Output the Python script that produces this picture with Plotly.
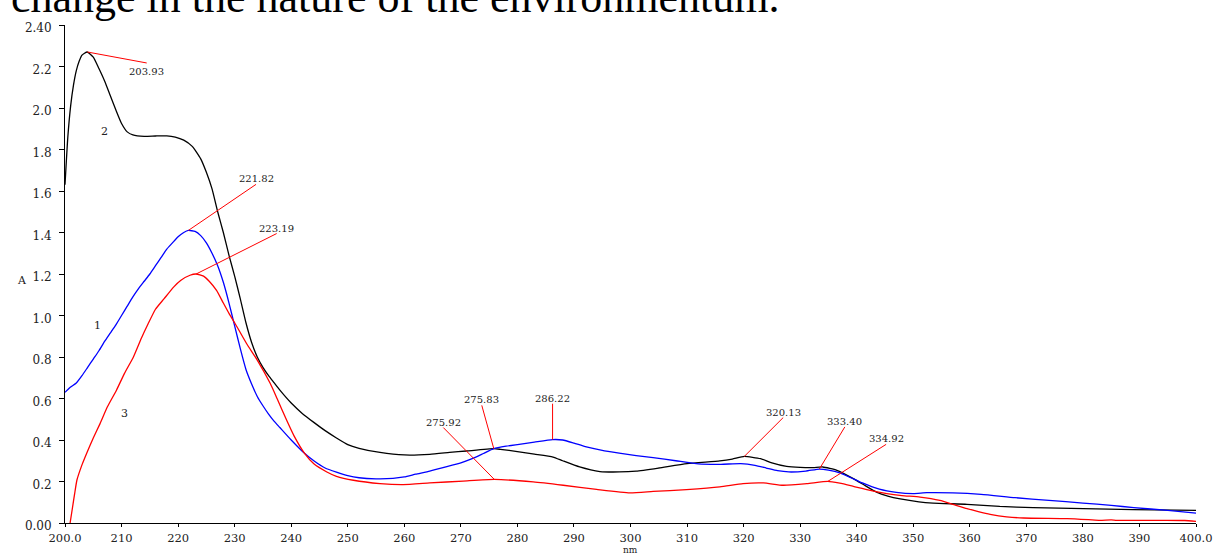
import numpy as np
import plotly.graph_objects as go

# ---- spectra (wavelength in nm, absorbance A) ----
wl_1 = [200.0, 201.0, 202.0, 203.0, 204.0, 205.0, 206.0, 207.0, 208.0, 209.0, 210.0, 211.0,
        212.0, 213.0, 214.0, 215.0, 216.0, 217.0, 218.0, 219.0, 220.0, 221.0, 221.82, 223.0,
        224.0, 225.0, 226.0, 227.0, 228.0, 229.0, 230.0, 231.0, 232.0, 233.0, 234.0, 235.0,
        236.0, 237.0, 238.0, 240.0, 242.0, 244.0, 246.0, 248.0, 250.0, 252.0, 255.0, 258.0,
        260.0, 262.0, 264.5, 267.0, 270.0, 272.0, 274.0, 275.83, 278.0, 280.0, 283.0, 286.22,
        288.0, 290.0, 292.0, 295.0, 298.0, 301.0, 304.0, 308.0, 312.0, 316.0, 319.5, 322.0,
        324.0, 326.0, 328.0, 331.0, 333.40, 335.0, 337.0, 339.0, 341.0, 344.0, 347.0, 350.0,
        352.4, 357.0, 362.0, 368.0, 374.0, 380.0, 385.0, 389.0, 395.0, 400.0]
abs_1 = [0.63, 0.655, 0.675, 0.71, 0.75, 0.79, 0.83, 0.875, 0.915, 0.955, 1.00, 1.045,
         1.09, 1.13, 1.165, 1.20, 1.24, 1.28, 1.32, 1.35, 1.38, 1.40, 1.41, 1.405,
         1.385, 1.35, 1.30, 1.24, 1.16, 1.06, 0.95, 0.84, 0.74, 0.67, 0.61, 0.565,
         0.525, 0.49, 0.46, 0.40, 0.345, 0.30, 0.265, 0.245, 0.228, 0.218, 0.213, 0.215,
         0.222, 0.235, 0.25, 0.268, 0.29, 0.31, 0.335, 0.358, 0.37, 0.378, 0.39, 0.402,
         0.40, 0.385, 0.368, 0.35, 0.337, 0.325, 0.315, 0.30, 0.285, 0.283, 0.286, 0.278,
         0.265, 0.252, 0.246, 0.25, 0.26, 0.255, 0.242, 0.218, 0.193, 0.163, 0.148, 0.142,
         0.146, 0.145, 0.138, 0.122, 0.109, 0.096, 0.085, 0.074, 0.061, 0.048]

wl_2 = [200.0, 200.5, 201.0, 201.5, 202.0, 202.5, 203.0, 203.93, 205.0, 206.0, 207.0, 208.0,
        209.0, 210.0, 211.0, 212.0, 214.0, 216.0, 218.0, 219.5, 221.0, 222.5, 224.0, 225.0,
        226.0, 227.0, 228.0, 229.0, 230.0, 231.0, 232.0, 233.0, 234.0, 235.0, 236.0, 237.0,
        238.0, 240.0, 242.0, 244.0, 246.0, 248.0, 250.0, 252.0, 255.7, 260.0, 264.5, 268.0,
        271.0, 275.83, 277.0, 280.0, 283.0, 286.3, 288.0, 291.0, 294.6, 298.0, 301.0, 305.0,
        310.0, 315.8, 318.0, 320.13, 323.0, 325.0, 327.6, 330.0, 332.3, 334.0, 336.5, 339.4,
        341.5, 343.5, 345.5, 347.7, 351.0, 353.5, 359.5, 365.3, 371.2, 380.1, 388.9, 400.0]
abs_2 = [1.63, 1.86, 2.01, 2.11, 2.18, 2.225, 2.255, 2.27, 2.245, 2.19, 2.13, 2.06,
         1.99, 1.925, 1.885, 1.87, 1.863, 1.865, 1.866, 1.86, 1.845, 1.815, 1.755, 1.69,
         1.61, 1.50, 1.40, 1.29, 1.19, 1.08, 0.965, 0.87, 0.80, 0.75, 0.71, 0.675,
         0.64, 0.578, 0.527, 0.485, 0.445, 0.41, 0.378, 0.36, 0.34, 0.328, 0.331, 0.34,
         0.347, 0.358, 0.355, 0.344, 0.332, 0.318, 0.30, 0.27, 0.248, 0.246, 0.25, 0.265,
         0.286, 0.299, 0.308, 0.321, 0.31, 0.29, 0.273, 0.268, 0.267, 0.27, 0.254, 0.214,
         0.18, 0.149, 0.13, 0.116, 0.102, 0.096, 0.09, 0.08, 0.074, 0.069, 0.064, 0.061]

wl_3 = [200.9, 201.3, 201.7, 202.1, 203.0, 203.8, 205.0, 206.2, 207.5, 209.1, 210.5, 212.1,
        213.5, 214.7, 216.0, 217.5, 219.2, 220.5, 222.1, 223.19, 224.5, 225.5, 226.8, 228.0,
        229.0, 230.0, 232.1, 234.0, 236.3, 237.5, 239.2, 240.5, 242.4, 244.0, 246.3, 248.0,
        251.0, 255.7, 259.8, 264.5, 270.4, 275.92, 282.8, 288.1, 294.0, 299.9, 304.0, 309.9,
        315.8, 319.9, 323.5, 327.0, 331.2, 334.92, 337.0, 339.4, 342.0, 345.3, 348.0, 351.2,
        354.7, 357.0, 359.5, 361.5, 363.6, 366.5, 369.5, 377.2, 381.0, 383.0, 385.0, 386.0,
        394.8, 398.0, 400.0]
abs_3 = [0.0, 0.07, 0.14, 0.206, 0.28, 0.334, 0.41, 0.479, 0.56, 0.64, 0.72, 0.80,
         0.89, 0.96, 1.03, 1.08, 1.137, 1.17, 1.194, 1.20, 1.19, 1.165, 1.121, 1.06,
         1.01, 0.965, 0.865, 0.785, 0.672, 0.60, 0.495, 0.42, 0.334, 0.285, 0.246, 0.225,
         0.206, 0.19, 0.185, 0.193, 0.202, 0.21, 0.198, 0.182, 0.162, 0.145, 0.152, 0.161,
         0.174, 0.19, 0.193, 0.182, 0.19, 0.201, 0.192, 0.177, 0.16, 0.142, 0.132, 0.125,
         0.109, 0.09, 0.069, 0.055, 0.042, 0.03, 0.024, 0.021, 0.016, 0.013, 0.015, 0.013,
         0.013, 0.012, 0.008]

# ---- peak labels: wavelength and the spectrum it sits on ----
peak_wl = [203.93, 221.82, 223.19, 275.92, 275.83, 286.22, 320.13, 333.40, 334.92]
peak_curve = ["2", "1", "3", "3", "1", "1", "2", "1", "3"]

# ---- axis ticks ----
x_ticks = [200, 210, 220, 230, 240, 250, 260, 270, 280, 290, 300, 310, 320, 330, 340,
           350, 360, 370, 380, 390, 400]
x_tick_text = ["200.0"] + [str(v) for v in x_ticks[1:-1]] + ["400.0"]
y_ticks = [0.0, 0.2, 0.4, 0.6, 0.8, 1.0, 1.2, 1.4, 1.6, 1.8, 2.0, 2.2, 2.4]
y_tick_text = ["0.00", "0.2", "0.4", "0.6", "0.8", "1.0", "1.2", "1.4", "1.6", "1.8",
               "2.0", "2.2", "2.40"]

spectra = {"1": (wl_1, abs_1), "2": (wl_2, abs_2), "3": (wl_3, abs_3)}
colors = {"1": "#0000ff", "2": "#000000", "3": "#ff0000"}

# leader-line free ends (nm, A); the first label hangs below its line
leader_end = [(214.45, 2.217), (233.78, 1.632), (237.43, 1.395), (266.9, 0.46),
              (273.7, 0.567), (286.22, 0.575), (327.0, 0.508), (337.9, 0.463),
              (345.2, 0.379)]
label_below = [True, False, False, False, False, False, False, False, False]

SERIF = "Liberation Serif, Times New Roman, serif"
TICK_SERIF = "DejaVu Serif, serif"
TXT = "#222222"

fig = go.Figure()
for key in ["2", "1", "3"]:
    xs, ys = spectra[key]
    fig.add_trace(go.Scatter(x=xs, y=ys, mode="lines",
                             line=dict(color=colors[key], width=1.3,
                                       shape="spline", smoothing=0.5),
                             showlegend=False, hoverinfo="skip"))

shapes = []
annotations = []
for wl, key, (ex, ey), below in zip(peak_wl, peak_curve, leader_end, label_below):
    xs, ys = spectra[key]
    py = float(np.interp(wl, xs, ys))
    shapes.append(dict(type="line", xref="x", yref="y", x0=wl, y0=py, x1=ex, y1=ey,
                       line=dict(color="#ff0000", width=1)))
    annotations.append(dict(x=ex, y=ey, xref="x", yref="y", text=f"{wl:.2f}",
                            showarrow=False, xanchor="center",
                            yanchor="top" if below else "bottom",
                            yshift=-1 if below else -2,
                            font=dict(family=TICK_SERIF, size=10, color=TXT)))

# curve numbers
for txt, x, y in [("2", 207.07, 1.887), ("1", 205.8, 0.952), ("3", 210.6, 0.528)]:
    annotations.append(dict(x=x, y=y, xref="x", yref="y", text=txt, showarrow=False,
                            font=dict(family=TICK_SERIF, size=11, color=TXT)))

# axis titles
annotations.append(dict(x=-0.0442, y=0.4875, xref="paper", yref="paper", text="A",
                        showarrow=False, font=dict(family=TICK_SERIF, size=11, color=TXT)))
annotations.append(dict(x=0.4996, y=-0.0535, xref="paper", yref="paper", text="nm",
                        showarrow=False, yanchor="middle", borderpad=0,
                        font=dict(family=TICK_SERIF, size=9, color=TXT)))

# running text line of the page above the chart
annotations.append(dict(x=-0.049, y=1.055, xref="paper", yref="paper",
                        text="change in the nature of the environmentum.",
                        showarrow=False, xanchor="left", yanchor="middle", borderpad=0,
                        font=dict(family=SERIF, size=44, color="#000000")))

fig.update_layout(
    width=1214, height=554,
    margin=dict(l=65, r=18, t=25, b=31, autoexpand=False),
    paper_bgcolor="white", plot_bgcolor="white",
    shapes=shapes, annotations=annotations,
    xaxis=dict(range=[200, 400], tickvals=x_ticks, ticktext=x_tick_text,
               automargin=False,
               showgrid=False, zeroline=False, showline=True, linecolor="#000000",
               linewidth=1, ticks="outside", ticklen=3, tickcolor="#000000",
               ticklabelstandoff=1,
               tickfont=dict(family=TICK_SERIF, size=11.5, color=TXT)),
    yaxis=dict(range=[0, 2.4], tickvals=y_ticks, ticktext=y_tick_text,
               automargin=False,
               showgrid=False, zeroline=False, showline=True, linecolor="#000000",
               linewidth=1, ticks="outside", ticklen=5, tickcolor="#000000",
               ticklabelstandoff=5, ticklabelshift=3,
               tickfont=dict(family=TICK_SERIF, size=12, color=TXT)),
)

fig.write_html("out.html")
